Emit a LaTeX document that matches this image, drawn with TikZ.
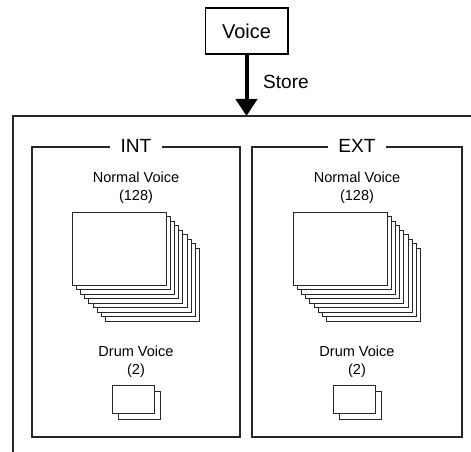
\documentclass[tikz,border=0pt]{standalone}
\usepackage{fontspec}
\setmainfont{Liberation Sans}
\usetikzlibrary{arrows.meta, positioning}
\tikzset{
  bigtext/.style={font=\fontsize{14.3}{17}\selectfont},
  smalltext/.style={font=\fontsize{10.9}{13.5}\selectfont, align=center},
  sheet/.style={draw=black!85, fill=white, line width=0.6pt},
  bankbox/.style={draw=black!85, line width=0.9pt, minimum height=217.5pt}
}

\begin{document}
\begin{tikzpicture}[x=0.75pt, y=-0.75pt]
        \useasboundingbox (0,0) rectangle (471,452);

        % Source voice
        \node[draw, line width=1pt, minimum width=62pt, minimum height=34.5pt, font=\fontsize{15}{18}\selectfont] (voice) at (246.5,31) {Voice};

        % Memory frame (cut off at right and bottom)
        \coordinate (frametop) at (246.5,116);
        \draw[black!85, line width=1.5pt] (471,116) -- (13,116) -- (13,452);

        % Store arrow
        \draw[-{Triangle[length=12.75pt, width=15.75pt]}, line width=3pt] (voice) -- (frametop)
            node[pos=0.45, right=11pt, inner sep=0pt, bigtext] (store) {Store};

        % Banks
        \node[bankbox, minimum width=156pt] (int) at (136,292) {};
        \node[bankbox, minimum width=157.5pt] (ext) at (357,292) {};
        \node[fill=white, inner xsep=8pt, inner ysep=1pt, bigtext] (intlabel) at (int.north) {INT};
        \node[fill=white, inner xsep=8pt, inner ysep=1pt, bigtext] (extlabel) at (ext.north) {EXT};

        % Normal and drum voices
        \node[smalltext] (intnormal) at (136,188) {Normal Voice\\(128)};
        \node[smalltext] (extnormal) at (357,188) {Normal Voice\\(128)};
        \node[smalltext] (intdrum) at (136,362) {Drum Voice\\(2)};
        \node[smalltext] (extdrum) at (357,362) {Drum Voice\\(2)};

        % Voice sheets
        \foreach \cx in {136,357} {
            \foreach \i in {8,...,0}
                \draw[sheet] ({\cx-64+\i*4.2},{212+\i*4.5}) rectangle ++(94,73);
            \draw[sheet] ({\cx-18},391) rectangle ++(42,28);
            \draw[sheet] ({\cx-24},385) rectangle ++(42,28);
        }
    \end{tikzpicture}
\end{document}
